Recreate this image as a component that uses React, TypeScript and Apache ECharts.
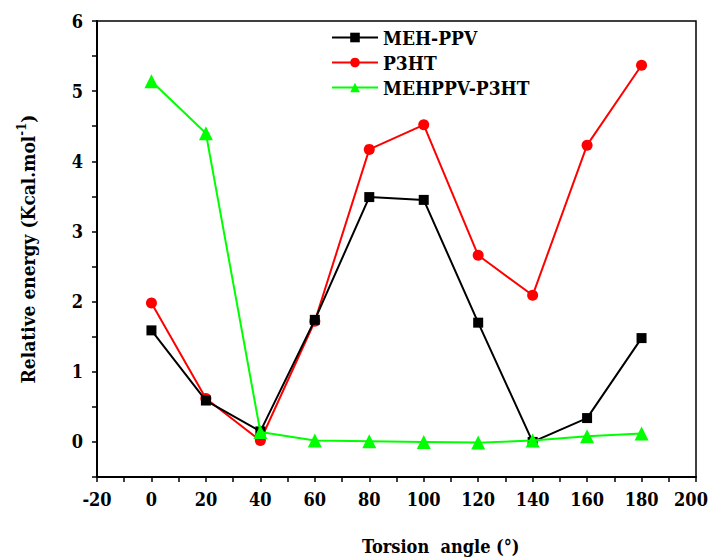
import React, { useEffect, useRef } from "react";
import * as echarts from "echarts";

const angles = [0, 20, 40, 60, 80, 100, 120, 140, 160, 180];
const mehPpv = [1.59, 0.59, 0.15, 1.74, 3.49, 3.45, 1.7, 0.0, 0.34, 1.48];
const p3ht = [1.98, 0.62, 0.02, 1.72, 4.17, 4.52, 2.66, 2.09, 4.23, 5.37];
const blend = [5.14, 4.4, 0.14, 0.02, 0.01, 0.0, -0.01, 0.02, 0.08, 0.12];
const seriesNames = ["MEH-PPV", "P3HT", "MEHPPV-P3HT"];

const FONT = "DejaVu Serif Condensed";

export default function App() {
  const ref = useRef<HTMLDivElement>(null);
  useEffect(() => {
    if (!ref.current) return;
    const chart = echarts.init(ref.current, undefined, { renderer: "svg" });
    const pair = (arr: number[]) => angles.map((a, i) => [a, arr[i]]);
    const axisText = { color: "#000", fontFamily: FONT, fontWeight: "bold" as const, fontSize: 18 };
    chart.setOption({
      animation: false,
      backgroundColor: "#fff",
      textStyle: { fontFamily: FONT },
      grid: {
        left: 97,
        right: 15,
        top: 21,
        bottom: 83,
        outerBoundsMode: "none",
        containLabel: false,
        show: true,
        borderColor: "#000",
        borderWidth: 1.5,
        backgroundColor: "transparent",
      },
      legend: {
        orient: "vertical",
        left: 326,
        top: 23,
        itemWidth: 46,
        itemHeight: 12,
        itemGap: 6,
        data: seriesNames,
        textStyle: { ...axisText, fontSize: 19 },
      },
      xAxis: {
        type: "value",
        min: -20,
        max: 200,
        interval: 10,
        axisLine: { onZero: false, lineStyle: { color: "#000", width: 2 } },
        axisTick: { lineStyle: { color: "#000", width: 1.5 }, length: 5 },
        splitLine: { show: false },
        axisLabel: {
          ...axisText,
          margin: 13,
          rich: {
            r: { ...axisText, padding: [0, 10, 0, 0] },
          },
          formatter: (v: number) => {
            const n = Math.round(v);
            if (n % 20 !== 0) return "";
            return n === 200 ? "{r|200}" : String(n);
          },
        },
      },
      yAxis: {
        type: "value",
        min: -0.5,
        max: 6,
        interval: 0.5,
        axisLine: { onZero: false, lineStyle: { color: "#000", width: 2 } },
        axisTick: { lineStyle: { color: "#000", width: 1.5 }, length: 5 },
        splitLine: { show: false },
        axisLabel: {
          ...axisText,
          margin: 14,
          formatter: (v: number) => (Math.abs(v - Math.round(v)) < 1e-6 && v >= 0 ? String(Math.round(v)) : ""),
        },
        name: "{a|Relative energy (Kcal.mol}{s|-1}{a|)}",
        nameLocation: "middle",
        nameRotate: 90,
        nameGap: 57,
        nameTextStyle: {
          rich: {
            a: { ...axisText, fontSize: 19, lineHeight: 24 },
            s: { ...axisText, fontSize: 13, lineHeight: 24, padding: [0, 0, 14, 0] },
          },
        },
      },
      graphic: [
        {
          type: "text",
          left: 362,
          top: 537,
          style: { text: "Torsion  angle (°)", fontFamily: FONT, fontWeight: "bold", fontSize: 18, fill: "#000" },
        },
      ],
      series: [
        {
          name: seriesNames[0],
          type: "line",
          data: pair(mehPpv),
          color: "#000",
          symbol: "rect",
          symbolSize: 10,
          lineStyle: { width: 2, color: "#000" },
          itemStyle: { color: "#000" },
          z: 3,
        },
        {
          name: seriesNames[1],
          type: "line",
          data: pair(p3ht),
          color: "#ff0000",
          symbol: "circle",
          symbolSize: 11,
          lineStyle: { width: 2, color: "#ff0000" },
          itemStyle: { color: "#ff0000" },
          z: 2,
        },
        {
          name: seriesNames[2],
          type: "line",
          data: pair(blend),
          color: "#00ff00",
          symbol: "triangle",
          symbolSize: 14,
          lineStyle: { width: 2, color: "#00ff00" },
          itemStyle: { color: "#00ff00" },
          z: 4,
        },
      ],
    });
    return () => chart.dispose();
  }, []);
  return (
    <div
      ref={ref}
      style={{ position: "fixed", left: 0, top: 0, width: 711, height: 560, background: "#fff" }}
    />
  );
}
